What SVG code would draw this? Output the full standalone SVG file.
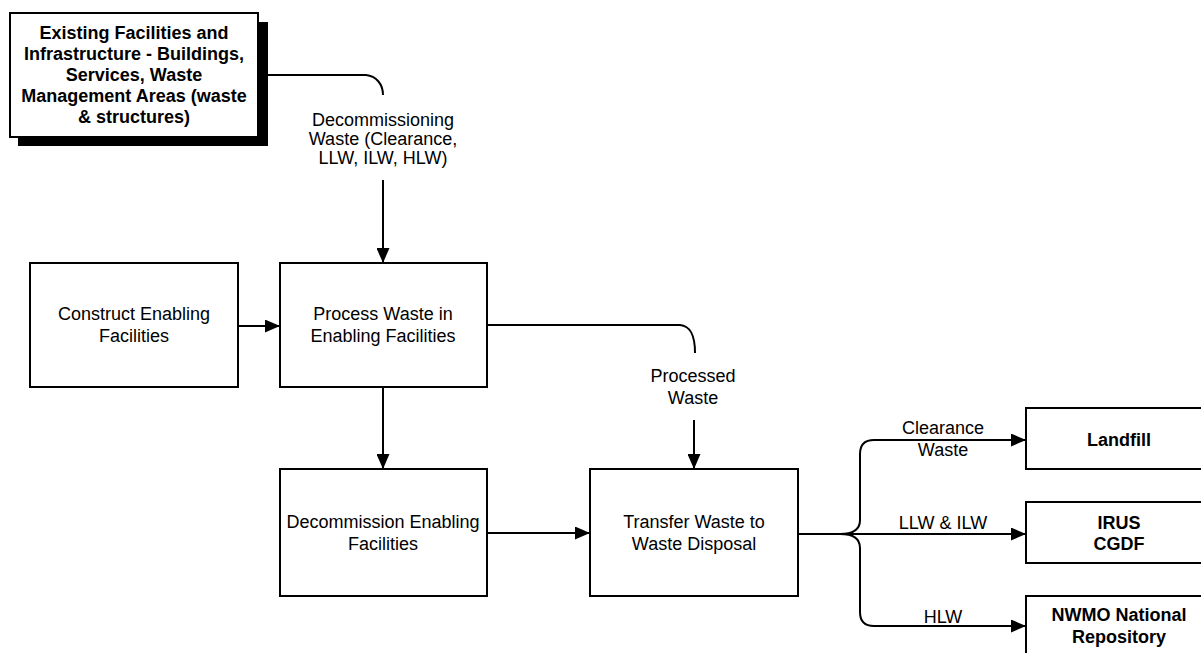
<svg xmlns="http://www.w3.org/2000/svg" width="1201" height="653" viewBox="0 0 1201 653">
  <style>
    .box { fill: #ffffff; stroke: #000000; stroke-width: 2; }
    .shadow { fill: #000000; }
    .wire { fill: none; stroke: #000000; stroke-width: 2; }
    .t { font-family: "Liberation Sans", Arial, sans-serif; font-size: 18px; fill: #000000; text-anchor: middle; }
    .b { font-weight: bold; }
  </style>
  <defs>
    <marker id="arrow" viewBox="0 0 15 13" refX="15" refY="6.5" markerWidth="15" markerHeight="13" markerUnits="userSpaceOnUse" orient="auto">
      <path d="M0,0 L15,6.5 L0,13 Z" fill="#000000"/>
    </marker>
  </defs>

  <!-- connectors -->
  <g id="connectors">
    <path class="wire" d="M258,75 H366 C376,76 383,84 383,95"/>
    <path class="wire" d="M383,180 V263" marker-end="url(#arrow)"/>
    <path class="wire" d="M238,326 H280" marker-end="url(#arrow)"/>
    <path class="wire" d="M487,325 H680 C690,326 695,334 695,353"/>
    <path class="wire" d="M694,420 V469" marker-end="url(#arrow)"/>
    <path class="wire" d="M383,387 V469" marker-end="url(#arrow)"/>
    <path class="wire" d="M487,533 H590" marker-end="url(#arrow)"/>
    <path class="wire" d="M798,534 H840"/>
    <path class="wire" d="M840,534 C852,534 860,530 860,520 V454 Q860,440 874,440 H1026" marker-end="url(#arrow)"/>
    <path class="wire" d="M840,534 H1026" marker-end="url(#arrow)"/>
    <path class="wire" d="M840,534 C852,534 860,538 860,548 V612 Q860,626 874,626 H1026" marker-end="url(#arrow)"/>
    <text class="t" x="383" y="126">Decommissioning</text>
    <text class="t" x="383" y="145">Waste (Clearance,</text>
    <text class="t" x="383" y="164">LLW, ILW, HLW)</text>
    <text class="t" x="693" y="382">Processed</text>
    <text class="t" x="693" y="404">Waste</text>
    <text class="t" x="943" y="434">Clearance</text>
    <text class="t" x="943" y="456">Waste</text>
    <text class="t" x="943" y="529">LLW &amp; ILW</text>
    <text class="t" x="943" y="623">HLW</text>
  </g>

  <!-- existing facilities (with drop shadow) -->
  <g id="existing">
    <rect class="shadow" x="18" y="22" width="250" height="124"/>
    <rect class="box" x="10" y="13" width="248" height="124"/>
    <text class="t b" x="134" y="39">Existing Facilities and</text>
    <text class="t b" x="134" y="60">Infrastructure - Buildings,</text>
    <text class="t b" x="134" y="81">Services, Waste</text>
    <text class="t b" x="134" y="102">Management Areas (waste</text>
    <text class="t b" x="134" y="123">&amp; structures)</text>
  </g>

  <g id="construct">
    <rect class="box" x="30" y="263" width="208" height="124"/>
    <text class="t" x="134" y="320">Construct Enabling</text>
    <text class="t" x="134" y="342">Facilities</text>
  </g>

  <g id="process">
    <rect class="box" x="280" y="263" width="207" height="124"/>
    <text class="t" x="383" y="320">Process Waste in</text>
    <text class="t" x="383" y="342">Enabling Facilities</text>
  </g>

  <g id="decommission">
    <rect class="box" x="280" y="469" width="207" height="127"/>
    <text class="t" x="383" y="528">Decommission Enabling</text>
    <text class="t" x="383" y="550">Facilities</text>
  </g>

  <g id="transfer">
    <rect class="box" x="590" y="469" width="208" height="127"/>
    <text class="t" x="694" y="528">Transfer Waste to</text>
    <text class="t" x="694" y="550">Waste Disposal</text>
  </g>

  <g id="landfill">
    <rect class="box" x="1026" y="408" width="186" height="61"/>
    <text class="t b" x="1119" y="446">Landfill</text>
  </g>

  <g id="irus">
    <rect class="box" x="1026" y="502" width="186" height="61"/>
    <text class="t b" x="1119" y="529">IRUS</text>
    <text class="t b" x="1119" y="550">CGDF</text>
  </g>

  <g id="nwmo">
    <rect class="box" x="1026" y="596" width="186" height="70"/>
    <text class="t b" x="1119" y="621">NWMO National</text>
    <text class="t b" x="1119" y="643">Repository</text>
  </g>
</svg>
